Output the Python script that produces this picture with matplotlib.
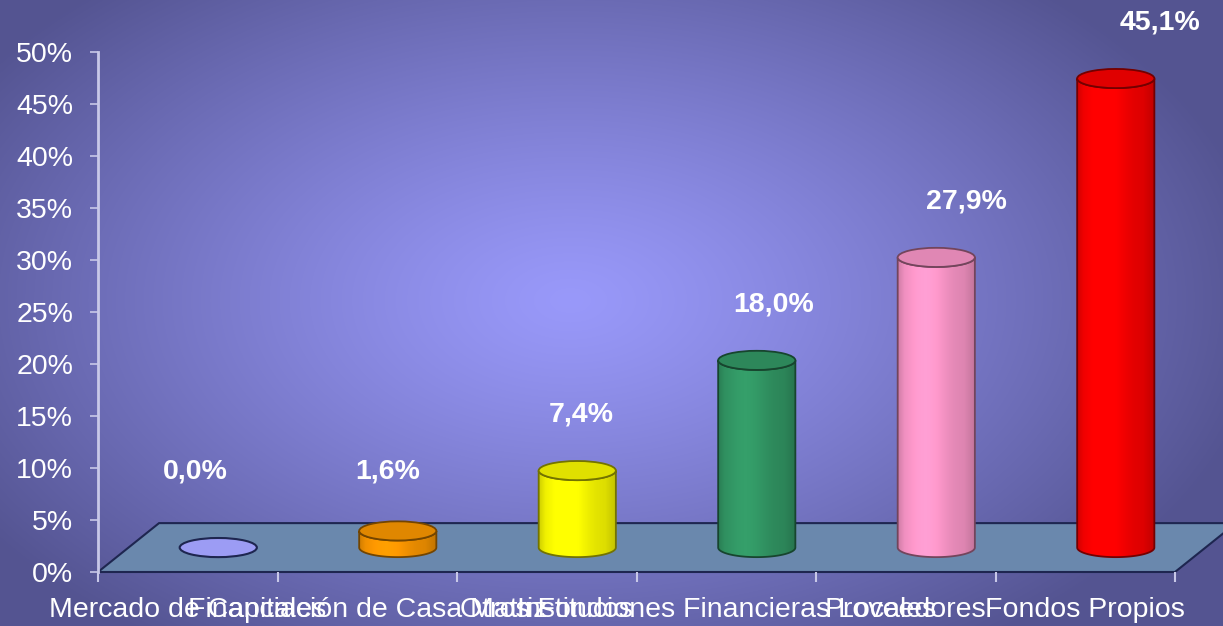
import numpy as np
import matplotlib
matplotlib.use("Agg")
import matplotlib.pyplot as plt
from matplotlib.patches import Polygon, Ellipse, PathPatch
from matplotlib.path import Path
from matplotlib.colors import to_rgb

# data
categories = ["Mercado de Capitales", "Financiación de Casa Matriz", "Otros Fondos",
              "Instituciones Financieras Locales", "Proveedores", "Fondos Propios"]
values = [0.0, 1.6, 7.4, 18.0, 27.9, 45.1]
value_labels = ["0,0%", "1,6%", "7,4%", "18,0%", "27,9%", "45,1%"]
y_ticks = [0, 5, 10, 15, 20, 25, 30, 35, 40, 45, 50]
y_tick_labels = [str(t) + "%" for t in y_ticks]

# styles
colors = ["#9c9cf4", "#ff9900", "#ffff00", "#339966", "#ff99cc", "#ff0000"]
floor_color = "#6a88ad"
edge_dark = "#1e2650"
font = "Liberation Sans"

W, H = 1223, 626
fig = plt.figure(figsize=(W / 100, H / 100), dpi=100)

# radial gradient background
bg = fig.add_axes([0, 0, 1, 1], zorder=-10)
yy, xx = np.mgrid[0:H, 0:W]
d = np.sqrt(((xx - 570) / 700.0) ** 2 + ((yy - 300) / 420.0) ** 2)
d = np.clip(d, 0, 1) ** 1.2
c_in = np.array([0.60, 0.60, 0.98])
c_out = np.array([0.33, 0.33, 0.57])
img = c_in[None, None, :] * (1 - d[..., None]) + c_out[None, None, :] * d[..., None]
bg.imshow(img, extent=[0, 1, 0, 1], aspect="auto", origin="upper")
bg.axis("off")

ax = fig.add_axes([98 / W, 1 - 572 / H, (1175 - 98) / W, (572 - 52) / H])
ax.patch.set_alpha(0)

# floor: depth offset in axis units
depth_dx, depth_dy = 0.34, 4.7
floor = Polygon([(0, 0), (6, 0), (6 + depth_dx, depth_dy), (depth_dx, depth_dy)],
                closed=True, facecolor=floor_color, edgecolor=edge_dark, lw=1.5,
                zorder=1, clip_on=False)
ax.add_patch(floor)

a = 0.215   # half width of cylinder (category units)
b = 0.92    # half height of ellipse (%)
y0 = depth_dy / 2


def scale(color, f):
    r, g, bl = to_rgb(color)
    return (r * f, g * f, bl * f)


def shade(base, n=200):
    r, g, bl = to_rgb(base)
    t = np.linspace(0, 1, n)
    f = 0.86 + 0.18 * np.exp(-((t - 0.35) / 0.30) ** 2)
    f[t > 0.85] *= 1 - 0.12 * (t[t > 0.85] - 0.85) / 0.15
    f[t < 0.08] *= 1 - 0.10 * (0.08 - t[t < 0.08]) / 0.08
    arr = np.stack([np.clip(r * f, 0, 1), np.clip(g * f, 0, 1), np.clip(bl * f, 0, 1)], axis=-1)
    return arr[None, :, :]


def cylinder(cx, v, color):
    th = np.linspace(np.pi, 2 * np.pi, 60)
    if v <= 0:
        ax.add_patch(Ellipse((cx, y0), 2 * a, 2 * b, facecolor=color,
                             edgecolor=edge_dark, lw=1.5, zorder=3, clip_on=False))
        return
    edge = scale(color, 0.45)
    y1 = y0 + v
    bottom = np.column_stack([cx + a * np.cos(th), y0 + b * np.sin(th)])
    top = np.column_stack([cx + a * np.cos(th[::-1]), y1 + b * np.sin(th[::-1])])
    verts = np.vstack([[cx - a, y1], bottom, [cx + a, y1], top, [cx - a, y1]])
    path = Path(verts, closed=True)
    body = PathPatch(path, facecolor="none", edgecolor=edge, lw=1.3, zorder=4, clip_on=False)
    im = ax.imshow(shade(color), extent=[cx - a, cx + a, y0 - b, y1 + b],
                   aspect="auto", zorder=3, origin="upper")
    ax.add_patch(body)
    im.set_clip_path(body)
    ax.add_patch(Ellipse((cx, y1), 2 * a, 2 * b, facecolor=scale(color, 0.88),
                         edgecolor=edge, lw=1.3, zorder=5, clip_on=False))


for i, v in enumerate(values):
    cx = i + 0.5 + depth_dx / 2
    cylinder(cx, v, colors[i])
    ax.text(i + 0.5 + 0.04 + 0.075 * i, max(v + 7.7, 9.7), value_labels[i],
            ha="center", va="center", color="white", fontsize=20.5,
            fontweight="bold", family=font, zorder=6, clip_on=False)

ax.set_xlim(0, 6)
ax.set_ylim(0, 50)

for s in ["top", "right", "bottom"]:
    ax.spines[s].set_visible(False)
ax.spines["left"].set_color("#c8c8e8")
ax.spines["left"].set_linewidth(2)

ax.set_yticks(y_ticks)
ax.set_yticklabels(y_tick_labels)
ax.tick_params(axis="y", colors="#c8c8e8", labelcolor="white", length=6, width=1.2,
               pad=12, labelsize=20.5)
ax.set_xticks(np.arange(7))
ax.set_xticklabels([])
ax.set_xticks(np.arange(6) + 0.5, minor=True)
ax.set_xticklabels(categories, minor=True)
ax.tick_params(axis="x", which="major", colors="#c8c8e8", length=7, width=1.5)
ax.tick_params(axis="x", which="minor", length=0, labelcolor="white", labelsize=20.5, pad=18)
for lab in ax.get_xticklabels(minor=True) + ax.get_yticklabels():
    lab.set_family(font)

fig.savefig("out.png", dpi=100)
